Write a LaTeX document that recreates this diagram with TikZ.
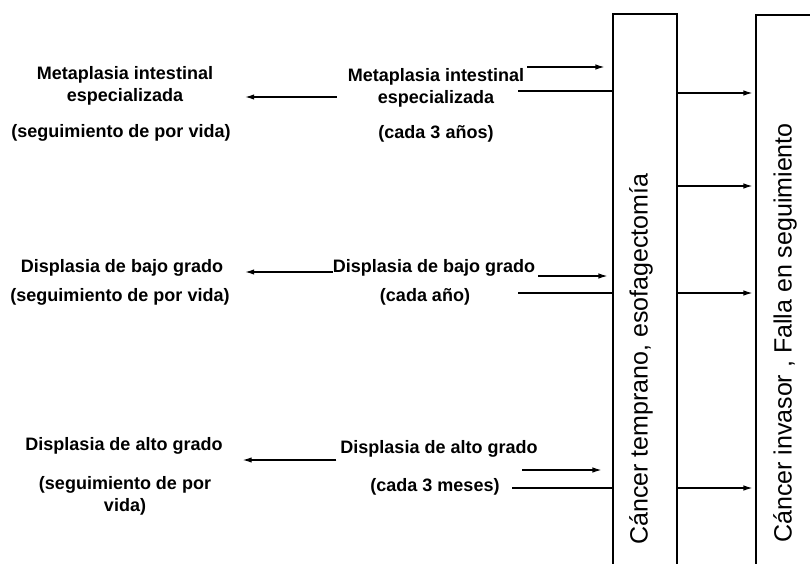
\documentclass[tikz,border=0pt]{standalone}
\usepackage{fontspec}
\setmainfont{Liberation Sans}
\usetikzlibrary{arrows.meta}

\begin{document}
\begin{tikzpicture}[x=1pt,y=-1pt,
  txt/.style={font=\fontsize{18}{22}\selectfont\bfseries, align=center, inner sep=0pt},
  boxtxt/.style={font=\fontsize{25}{28}\selectfont, rotate=90, inner sep=0pt},
  column/.style={draw, line width=1.1pt, inner sep=0pt},
  arr/.style={-{Latex[length=9pt,width=5.5pt]}, line width=1.2pt},
  ln/.style={line width=1.2pt}]

\useasboundingbox (0,0) rectangle (810,564);

% ------------------------
% Columns
% ------------------------
\node[column, minimum width=64pt, minimum height=586pt] (box1) at (645,307) {};
\node[column, minimum width=80pt, minimum height=586pt] (box2) at (796,308) {};

\node[boxtxt] (early) at (641,359) {Cáncer temprano, esofagectomía};
\node[boxtxt] (invasive) at (785,333) {Cáncer invasor , Falla en seguimiento};

% ------------------------
% Left column (lifelong)
% ------------------------
\node[txt] (ml1) at (125,86) {Metaplasia intestinal\\especializada};
\node[txt] (ml1f) at (121,133) {(seguimiento de por vida)};
\node[txt] (ml2) at (122,268) {Displasia de bajo grado};
\node[txt] (ml2f) at (120,297) {(seguimiento de por vida)};
\node[txt] (ml3) at (124,446) {Displasia de alto grado};
\node[txt] (ml3f) at (125,496) {(seguimiento de por\\vida)};

% ------------------------
% Middle column (intervals)
% ------------------------
\node[txt] (mm1) at (436,88) {Metaplasia intestinal\\especializada};
\node[txt] (mm1f) at (436,134) {(cada 3 años)};
\node[txt] (mm2) at (434,268) {Displasia de bajo grado};
\node[txt] (mm2f) at (425,297) {(cada año)};
\node[txt] (mm3) at (439,449) {Displasia de alto grado};
\node[txt] (mm3f) at (435,487) {(cada 3 meses)};

% ------------------------
% Arrows back to the left
% ------------------------
\draw[arr, shorten <=11pt, shorten >=32pt] (mm1.west |- 0,97) -- (ml1.east |- 0,97);
\draw[arr, shorten >=22pt] (mm2.west |- 0,272) -- (ml2.east |- 0,272);
\draw[arr, shorten <=4pt, shorten >=20pt] (mm3.west |- 0,460) -- (ml3.east |- 0,460);

% ------------------------
% Into the first column
% ------------------------
\coordinate (in1) at (527,67);
\coordinate (ln1) at (518,91);
\coordinate (in2) at (538,276);
\coordinate (ln2) at (518,293);
\coordinate (in3) at (522,470);
\coordinate (ln3) at (512,488);

\draw[arr, shorten >=8pt] (in1) -- (box1.west |- in1);
\draw[ln] (ln1) -- (box1.west |- ln1);
\draw[arr, shorten >=5pt] (in2) -- (box1.west |- in2);
\draw[ln] (ln2) -- (box1.west |- ln2);
\draw[arr, shorten >=11pt] (in3) -- (box1.west |- in3);
\draw[ln] (ln3) -- (box1.west |- ln3);

% ------------------------
% Between the columns
% ------------------------
\foreach \y in {93,186,293,488}{
  \draw[arr, shorten >=3pt] (box1.east |- 0,\y) -- (box2.west |- 0,\y);
}

\end{tikzpicture}
\end{document}
